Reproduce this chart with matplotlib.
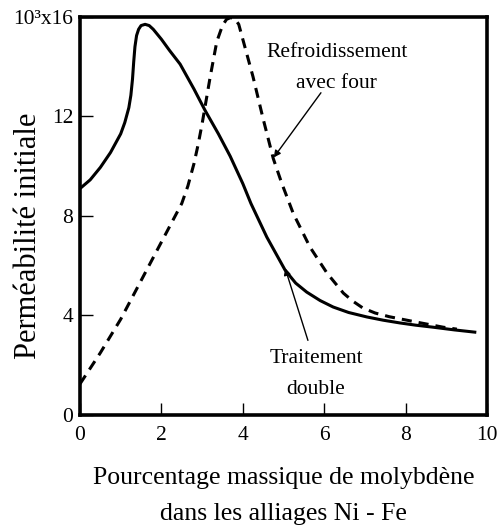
import matplotlib.pyplot as plt

plt.rcParams["font.family"] = ["Liberation Serif", "DejaVu Serif"]

# Traitement double (trait plein)
x_double = [0.0, 0.25, 0.5, 0.75, 1.0, 1.1, 1.2, 1.25, 1.29, 1.32, 1.35, 1.39, 1.44, 1.5,
            1.6, 1.7, 1.8, 2.0, 2.2, 2.46, 2.8, 3.07, 3.4, 3.69, 4.0, 4.2, 4.59, 5.04,
            5.3, 5.57, 5.9, 6.22, 6.6, 7.05, 7.45, 7.86, 8.25, 8.67, 9.2, 9.7]
y_double = [9.1, 9.45, 9.95, 10.55, 11.3, 11.75, 12.35, 12.85, 13.5, 14.2, 14.8, 15.25,
            15.5, 15.65, 15.7, 15.65, 15.5, 15.1, 14.65, 14.1, 13.1, 12.25, 11.3, 10.4,
            9.3, 8.5, 7.15, 5.82, 5.3, 4.94, 4.6, 4.34, 4.12, 3.94, 3.81, 3.7, 3.61,
            3.53, 3.42, 3.33]

# Refroidissement avec four (tirets)
x_four = [0.0, 0.5, 1.0, 1.5, 2.0, 2.5, 2.65, 2.8, 2.9, 3.0, 3.2, 3.36, 3.5, 3.6, 3.7,
          3.8, 3.9, 4.0, 4.25, 4.5, 4.75, 4.96, 5.24, 5.65, 6.07, 6.47, 6.7, 6.95, 7.25,
          7.6, 8.28, 8.92, 9.26]
y_four = [1.25, 2.5, 3.85, 5.4, 6.95, 8.5, 9.2, 10.1, 10.85, 11.7, 13.6, 15.0, 15.65,
          15.9, 15.97, 15.93, 15.7, 15.1, 13.6, 11.9, 10.3, 9.3, 8.1, 6.75, 5.7, 4.9,
          4.58, 4.3, 4.1, 3.95, 3.73, 3.53, 3.45]

xticks = [0, 2, 4, 6, 8, 10]
yticks = [0, 4, 8, 12, 16]
ytick_labels = ["0", "4", "8", "12", "10³x16"]

fig = plt.figure(figsize=(5.0, 5.27), dpi=100)
ax = fig.add_axes([0.16, 0.2125, 0.814, 0.7555])

ax.plot(x_double, y_double, color="black", lw=2.2)
ax.plot(x_four, y_four, color="black", lw=2.2, linestyle=(0, (3.3, 2.3)))

ax.set_xlim(0, 10)
ax.set_ylim(0, 16)
ax.set_xticks(xticks)
ax.set_xticklabels([str(t) for t in xticks])
ax.set_yticks(yticks)
ax.set_yticklabels(ytick_labels)
ax.tick_params(direction="in", length=9, width=1, labelsize=15.5)
ax.tick_params(axis="x", pad=8)
ax.tick_params(axis="y", pad=5)

for side in ax.spines.values():
    side.set_linewidth(2.6)

ax.set_xlabel("Pourcentage massique de molybdène\ndans les alliages Ni - Fe",
              fontsize=18.5, linespacing=1.85)
ax.xaxis.set_label_coords(0.5, -0.13)
ax.xaxis.label.set_va("top")
ax.set_ylabel("Perméabilité initiale", fontsize=22)
ax.yaxis.set_label_coords(-0.09, 0.45)

arrow = dict(arrowstyle="-|>", color="black", lw=1.0, mutation_scale=10,
             shrinkA=0, shrinkB=0)
ax.text(6.31, 13.95, "Refroidissement\navec four", ha="center", va="center",
        fontsize=15.5, linespacing=1.85)
ax.annotate("", xy=(4.76, 10.35), xytext=(5.92, 12.95), arrowprops=arrow)
ax.text(5.8, 1.65, "Traitement\ndouble", ha="center", va="center",
        fontsize=15.5, linespacing=1.85)
ax.annotate("", xy=(5.04, 5.9), xytext=(5.6, 3.0), arrowprops=arrow)

fig.savefig("out.png", dpi=100)
